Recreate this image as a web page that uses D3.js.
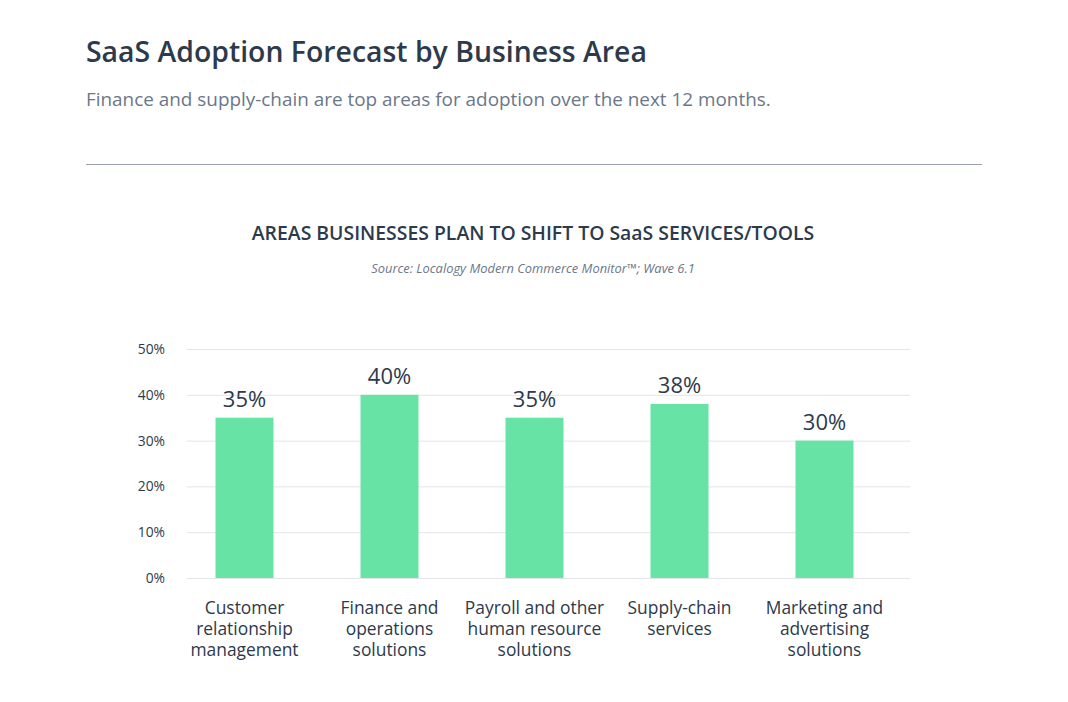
<!DOCTYPE html>
<html>
<head>
<meta charset="utf-8">
<script src="https://cdn.jsdelivr.net/npm/d3@7"></script>
<style>
  body { margin: 0; background: #fff; }
  svg { display: block; font-family: "Open Sans", "Noto Sans", sans-serif; }
</style>
</head>
<body>
<div id="chart"></div>
<script>
const categories = [
    ["Customer", "relationship", "management"],
    ["Finance and", "operations", "solutions"],
    ["Payroll and other", "human resource", "solutions"],
    ["Supply-chain", "services"],
    ["Marketing and", "advertising", "solutions"]
];
const values = [35, 40, 35, 38, 30];
const yTicks = [0, 10, 20, 30, 40, 50];

const W = 1068, H = 702;
const ink = "#2d3a4b";

const svg = d3.select("#chart")
    .append("svg")
    .attr("width", W)
    .attr("height", H);

// header
svg.append("text")
    .attr("x", 86).attr("y", 62)
    .attr("fill", ink)
    .style("font-size", "28.4px")
    .style("font-weight", 600)
    .text("SaaS Adoption Forecast by Business Area");

svg.append("text")
    .attr("x", 86).attr("y", 106)
    .attr("fill", "#6b778a")
    .style("font-size", "18.9px")
    .text("Finance and supply-chain are top areas for adoption over the next 12 months.");

svg.append("line")
    .attr("x1", 86).attr("x2", 982)
    .attr("y1", 164.5).attr("y2", 164.5)
    .attr("stroke", "#9aa1ad")
    .attr("stroke-width", 1);

svg.append("text")
    .attr("x", 533).attr("y", 240)
    .attr("text-anchor", "middle")
    .attr("fill", ink)
    .style("font-size", "19.4px")
    .style("font-weight", 600)
    .text("AREAS BUSINESSES PLAN TO SHIFT TO SaaS SERVICES/TOOLS");

svg.append("text")
    .attr("x", 533).attr("y", 273)
    .attr("text-anchor", "middle")
    .attr("fill", "#6b778a")
    .style("font-size", "12.9px")
    .style("font-style", "italic")
    .text("Source: Localogy Modern Commerce Monitor™; Wave 6.1");

// plot
const x = d3.scaleBand()
    .domain(d3.range(categories.length))
    .range([172, 897])
    .paddingInner(0.6)
    .paddingOuter(0.3);

const y = d3.scaleLinear()
    .domain([0, 50])
    .range([578, 349]);

const gridX0 = 187, gridX1 = 910;

const yAxis = svg.append("g")
    .attr("transform", `translate(${gridX0},0)`)
    .call(d3.axisLeft(y)
        .tickValues(yTicks)
        .tickSize(gridX0 - gridX1)
        .tickPadding(22)
        .tickFormat(d => d + "%"));

yAxis.select(".domain").remove();
yAxis.selectAll(".tick line")
    .attr("stroke", "#e3e5e8");
yAxis.selectAll(".tick text")
    .attr("fill", ink)
    .style("font-size", "13.8px")
    .style("font-family", "'Open Sans', 'Noto Sans', sans-serif");

svg.selectAll("rect.bar")
    .data(values)
    .join("rect")
    .attr("class", "bar")
    .attr("x", (d, i) => x(i))
    .attr("y", d => y(d))
    .attr("width", x.bandwidth())
    .attr("height", d => y(0) - y(d))
    .attr("fill", "#67e3a5");

svg.selectAll("text.value")
    .data(values)
    .join("text")
    .attr("class", "value")
    .attr("x", (d, i) => x(i) + x.bandwidth() / 2)
    .attr("y", d => y(d) - 11)
    .attr("text-anchor", "middle")
    .attr("fill", ink)
    .style("font-size", "22px")
    .text(d => d + "%");

const catLabels = svg.selectAll("text.cat")
    .data(categories)
    .join("text")
    .attr("class", "cat")
    .attr("x", (d, i) => x(i) + x.bandwidth() / 2)
    .attr("y", 614)
    .attr("text-anchor", "middle")
    .attr("fill", ink)
    .style("font-size", "17.4px");

catLabels.selectAll("tspan")
    .data(d => d)
    .join("tspan")
    .attr("x", function () { return this.parentNode.getAttribute("x"); })
    .attr("dy", (d, i) => i === 0 ? 0 : 21)
    .text(d => d);
</script>
</body>
</html>
